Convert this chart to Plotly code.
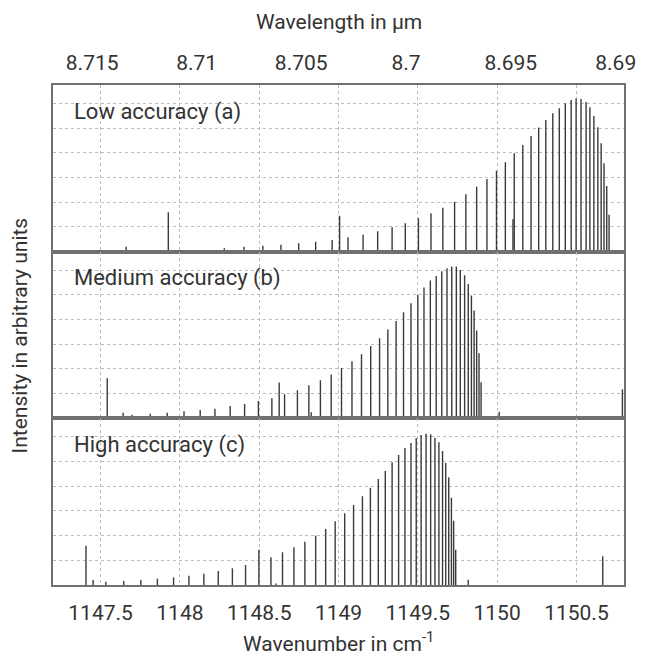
import plotly.graph_objects as go

# ---------------- data ----------------
wn_a = [1147.661, 1147.927, 1148.280, 1148.404, 1148.523, 1148.637, 1148.749, 1148.856,
        1148.960, 1149.007, 1149.060, 1149.155, 1149.247, 1149.338, 1149.421, 1149.504,
        1149.583, 1149.658, 1149.732, 1149.803, 1149.871, 1149.936, 1149.996, 1150.052,
        1150.100, 1150.108, 1150.162, 1150.214, 1150.262, 1150.307, 1150.351, 1150.392,
        1150.430, 1150.467, 1150.498, 1150.529, 1150.561, 1150.585, 1150.610, 1150.635,
        1150.656, 1150.674, 1150.691, 1150.706]
int_a = [5, 39.3, 3.3, 5, 6, 7, 8.3, 10, 11.7, 36, 14.3, 17, 20.3, 24.3, 28.3, 33.3,
         38.3, 44, 50, 57.3, 65, 72.7, 81, 89.3, 32.3, 98.3, 106.7, 115.7, 124, 131.7,
         138.3, 143.3, 148.3, 151.7, 153, 152.7, 149.7, 144.3, 135.7, 124.3, 108.3, 88.3,
         65.7, 37]

wn_b = [1147.542, 1147.642, 1147.698, 1147.813, 1147.920,
        1148.026, 1148.128, 1148.221, 1148.317, 1148.408, 1148.495, 1148.580, 1148.626,
        1148.660, 1148.741, 1148.813, 1148.828, 1148.886, 1148.954,
        1149.019, 1149.085, 1149.145, 1149.203, 1149.259, 1149.311, 1149.363, 1149.410,
        1149.457, 1149.500, 1149.539, 1149.579, 1149.616, 1149.651, 1149.684, 1149.714,
        1149.743, 1149.768, 1149.795, 1149.818, 1149.838, 1149.855, 1149.871, 1149.886,
        1149.899,
        1150.013, 1150.790]
int_b = [40, 5.7, 3.7, 4.7, 5.7,
         7, 8.3, 9.7, 12.3, 14.3, 17.3, 20, 35.7, 24, 28, 33, 6, 38, 43.7,
         50.3, 57, 64, 72.3, 80, 88.7, 97.3, 106, 115, 123.3, 130.7, 137.7, 142.3, 147,
         150, 151.7, 151.7, 148.3, 143, 134.3, 122.7, 107.7, 87.7, 65, 36,
         6.7, 29]

wn_c = [1147.408, 1147.453, 1147.533, 1147.646, 1147.754, 1147.858, 1147.960, 1148.057,
        1148.151, 1148.242, 1148.331, 1148.414, 1148.498, 1148.574, 1148.605, 1148.647,
        1148.719, 1148.788, 1148.856, 1148.919, 1148.979, 1149.039, 1149.095, 1149.151,
        1149.201, 1149.251, 1149.295, 1149.338, 1149.379, 1149.419, 1149.457, 1149.490,
        1149.521, 1149.552, 1149.581, 1149.608, 1149.633, 1149.656, 1149.676, 1149.695,
        1149.712, 1149.726, 1149.739, 1149.818, 1150.666]
int_c = [39.3, 5, 3.3, 4, 5, 6.3, 7.7, 9.3, 11.3, 14, 16.7, 20, 35.3, 27.7, 1.5, 32.7,
         37.7, 43.3, 49.3, 56, 63.7, 71.7, 80, 88.7, 97.3, 106, 114, 122.7, 130, 137,
         142, 147, 150, 151.3, 150.7, 147.3, 142.7, 134, 122, 107.7, 87.3, 64.3, 35.3,
         5.3, 28.7]

wavenumber_ticks = [1147.5, 1148, 1148.5, 1149, 1149.5, 1150, 1150.5]
wavelength_ticks = [8.715, 8.71, 8.705, 8.7, 8.695, 8.69]
wavelength_labels = ["8.715", "8.71", "8.705", "8.7", "8.695", "8.69"]
panel_labels = ["Low accuracy (a)", "Medium accuracy (b)", "High accuracy (c)"]

X_RANGE = [1147.2, 1150.8]
Y_RANGE = [0, 166.6]
Y_GRID = 24.7

FONT = "Roboto"
TXT = "#333333"
FRAME = "#707070"
GRID = "#bdbdbd"
STICK = "#3a3a3a"


def sticks(xs, ys):
    X, Y = [], []
    for x, y in zip(xs, ys):
        X += [x, x, None]
        Y += [0, y, None]
    return X, Y


fig = go.Figure()
for i, (xs, ys) in enumerate([(wn_a, int_a), (wn_b, int_b), (wn_c, int_c)]):
    sx, sy = sticks(xs, ys)
    suffix = "" if i == 0 else str(i + 1)
    fig.add_trace(go.Scatter(x=sx, y=sy, mode="lines",
                             line=dict(color=STICK, width=1.4),
                             xaxis="x" + suffix, yaxis="y" + suffix,
                             hoverinfo="skip", showlegend=False))

# invisible trace to carry the top (wavelength) axis
fig.add_trace(go.Scatter(x=X_RANGE, y=[0, 0], mode="lines", opacity=0,
                         xaxis="x4", yaxis="y", hoverinfo="skip", showlegend=False))

domains = [[2 / 3, 1.0], [1 / 3, 2 / 3], [0.0, 1 / 3]]
xcommon = dict(range=X_RANGE, tickvals=wavenumber_ticks,
               ticktext=[f"{v:g}" for v in wavenumber_ticks],
               showgrid=True, gridcolor=GRID, griddash="dot", gridwidth=1,
               showline=True, linecolor=FRAME, linewidth=1.5, mirror=True,
               ticks="", zeroline=False, ticklabelstandoff=8,
               tickfont=dict(family=FONT, size=21, color=TXT))
ycommon = dict(range=Y_RANGE, tick0=0, dtick=Y_GRID, showticklabels=False,
               showgrid=True, gridcolor=GRID, griddash="dot", gridwidth=1,
               showline=True, linecolor=FRAME, linewidth=1.5, mirror=True,
               ticks="", zeroline=False)

layout = dict(
    width=648, height=657,
    margin=dict(l=53, r=16, t=85, b=72, pad=0),
    paper_bgcolor="white", plot_bgcolor="white",
    font=dict(family=FONT, size=21, color=TXT),
    showlegend=False,
)
for i in range(3):
    suffix = "" if i == 0 else str(i + 1)
    layout["xaxis" + suffix] = dict(xcommon, anchor="y" + suffix,
                                    showticklabels=(i == 2),
                                    matches=None if i == 0 else "x")
    layout["yaxis" + suffix] = dict(ycommon, domain=domains[i], anchor="x" + suffix)

layout["xaxis4"] = dict(range=X_RANGE, overlaying="x", side="top", anchor="y",
                        tickvals=[10000 / w for w in wavelength_ticks],
                        ticktext=wavelength_labels, showgrid=False, showline=False,
                        ticks="", zeroline=False, ticklabelstandoff=10,
                        tickfont=dict(family=FONT, size=21, color=TXT))
fig.update_layout(**layout)

ann = []
plot_h = 657 - 85 - 72
for i, lab in enumerate(panel_labels):
    top = domains[i][1]
    ann.append(dict(text=lab, xref="paper", yref="paper", x=(72 - 53) / 579,
                    y=top - 26.7 / plot_h, xanchor="left", yanchor="middle",
                    showarrow=False, font=dict(family=FONT, size=22, color=TXT)))
ann.append(dict(text="Wavelength in µm", xref="paper", yref="paper", x=0.5,
                y=1 + (85 - 22) / plot_h, xanchor="center", yanchor="middle",
                showarrow=False, font=dict(family=FONT, size=21, color=TXT)))
ann.append(dict(text="Wavenumber in cm<sup>-1</sup>", xref="paper", yref="paper", x=0.5,
                y=-(642 - 585) / plot_h, xanchor="center", yanchor="middle",
                showarrow=False, font=dict(family=FONT, size=21, color=TXT)))
ann.append(dict(text="Intensity in arbitrary units", xref="paper", yref="paper",
                x=-(53 - 20) / 579, y=0.5, xanchor="center", yanchor="middle",
                textangle=-90, showarrow=False,
                font=dict(family=FONT, size=21, color=TXT)))
fig.update_layout(annotations=ann)

fig.write_html("out.html")
